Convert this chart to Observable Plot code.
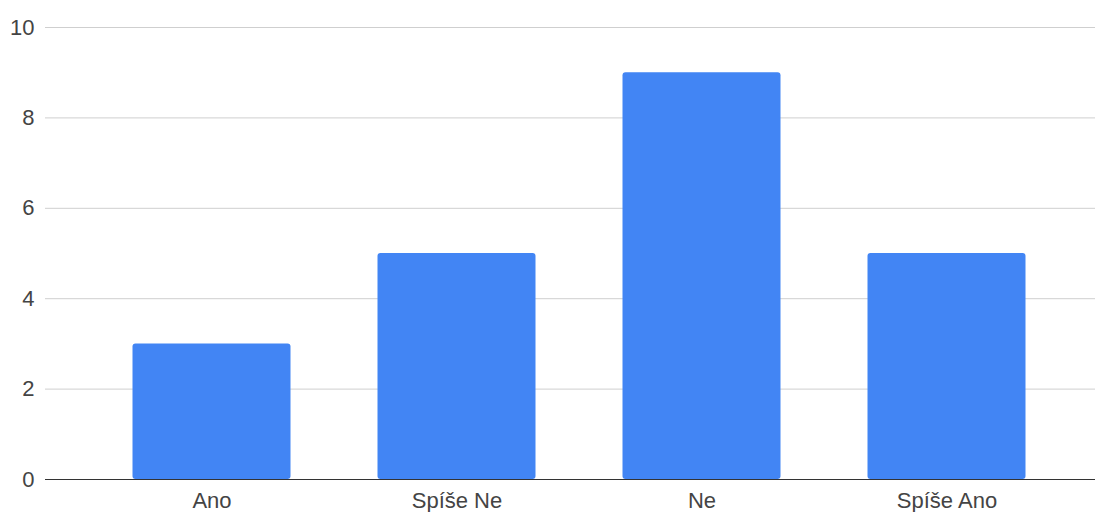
<!DOCTYPE html>
<html>
<head>
<meta charset="utf-8">
<script src="https://cdn.jsdelivr.net/npm/d3@7"></script>
<script src="https://cdn.jsdelivr.net/npm/@observablehq/plot@0.6"></script>
<style>
  html, body { margin: 0; padding: 0; background: #fff; }
  #chart svg { display: block; }
</style>
</head>
<body>
<div id="chart"></div>
<script>
const categories = ["Ano", "Spíše Ne", "Ne", "Spíše Ano"];
const values = [3, 5, 9, 5];
const yTicks = [0, 2, 4, 6, 8, 10];

const data = categories.map((c, i) => ({category: c, value: values[i]}));

const chart = Plot.plot({
  width: 1095,
  height: 512,
  marginLeft: 45,
  marginRight: 0,
  marginTop: 27,
  marginBottom: 33,
  style: {fontFamily: "Arial, 'Liberation Sans', sans-serif", fontSize: "22px", color: "#444", background: "#fff", overflow: "visible"},
  x: {domain: categories, padding: 0, insetLeft: 43.5, insetRight: 26.5, label: null},
  y: {domain: [0, 10], label: null},
  marks: [
    Plot.ruleY(yTicks.filter(d => d !== 0), {stroke: "#cfcfcf", strokeWidth: 1}),
    Plot.barY(data, {x: "category", y: "value", fill: "#4285F4", insetLeft: 43.5, insetRight: 43.5, rx: 3}),
    Plot.ruleY([0], {stroke: "#333", strokeWidth: 1}),
    Plot.axisY({ticks: yTicks, tickSize: 0, tickPadding: 11, tickFormat: d => d, fill: "#444", label: null}),
    Plot.axisX({tickSize: 0, tickPadding: 13, fill: "#444", label: null})
  ]
});
document.getElementById("chart").appendChild(chart);
</script>
</body>
</html>
